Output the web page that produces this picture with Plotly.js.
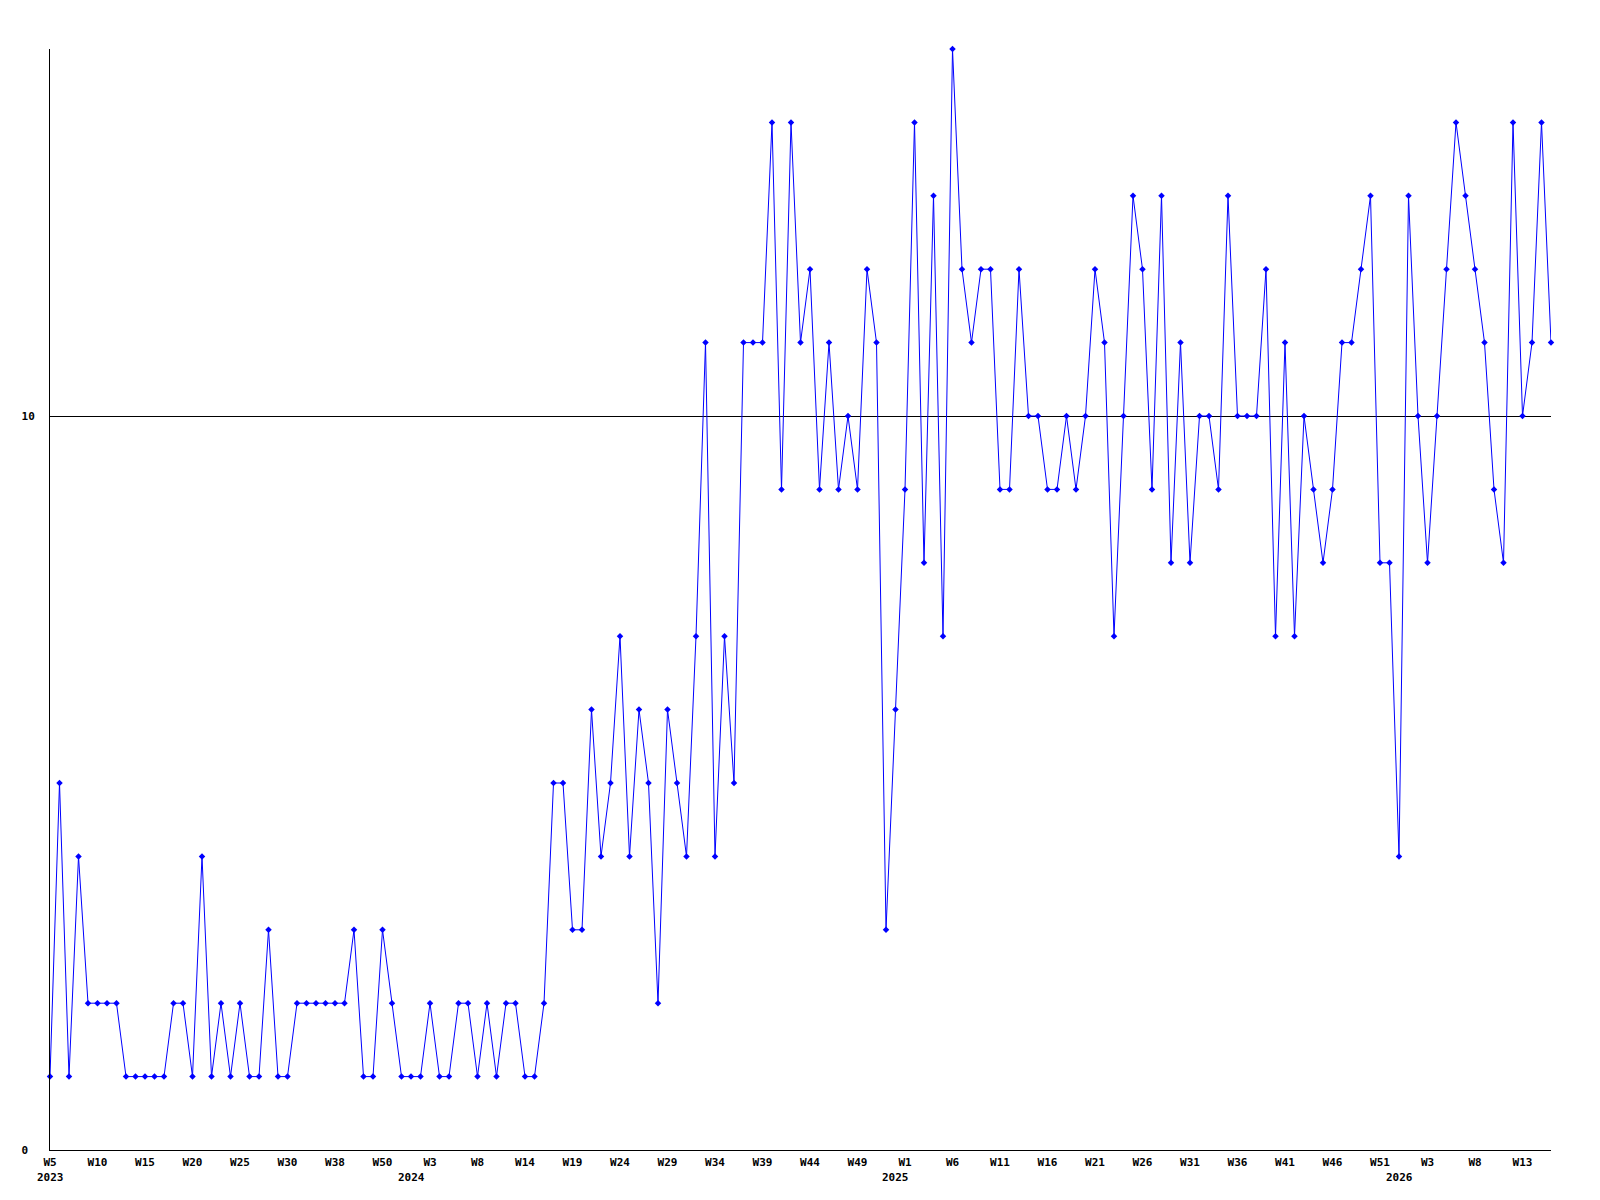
<!DOCTYPE html>
<html>
<head>
<meta charset="utf-8">
<script src="https://cdn.plot.ly/plotly-3.0.1.min.js"></script>
<style>
  html, body { margin: 0; padding: 0; background: #ffffff; }
  #chart { width: 1600px; height: 1200px; }
</style>
</head>
<body>
<div id="chart"></div>
<script>
// Weekly values, one per point (2023 W5 ... 2026 W15)
const values = [
  1,5,1,4,2,2,2,2,1,1,1,1,1,2,2,1,4,1,2,1,2,1,1,3,1,1,2,2,2,
  2,2,2,3,1,1,3,2,1,1,1,2,1,1,2,2,1,2,1,2,2,1,1,2,5,5,3,3,
  6,4,5,7,4,6,5,2,6,5,4,7,11,4,7,5,11,11,11,14,9,14,11,12,9,11,9,
  10,9,12,11,3,6,9,14,8,13,7,15,12,11,12,12,9,9,12,10,10,9,9,10,9,10,12,
  11,7,10,13,12,9,13,8,11,8,10,10,9,13,10,10,10,12,7,11,7,10,9,8,9,11,11,
  12,13,8,8,4,13,10,8,10,12,14,13,12,11,9,8,14,10,11,14,11
];

// Week tick labels (every 5th point)
const weekTickLabels = ["W5","W10","W15","W20","W25","W30","W38","W50","W3","W8","W14","W19",
  "W24","W29","W34","W39","W44","W49","W1","W6","W11","W16","W21","W26","W31","W36",
  "W41","W46","W51","W3","W8","W13"];
const weekTickEvery = 5;

// Year labels and the point index at which each year begins
const years = ["2023","2024","2025","2026"];
const yearStartIndex = [0, 38, 89, 142];

// Y axis labels
const yTickValues = [0, 10];
const yMax = 15;

const xIdx = values.map((_, i) => i);
const tickVals = weekTickLabels.map((_, k) => k * weekTickEvery);
// left-aligned y labels (monospace padding)
const yTickText = yTickValues.map(v => String(v).padEnd(2, "\u00a0"));

const labelFont = { family: "DejaVu Sans Mono", size: 11, color: "#000000", weight: "bold" };

const trace = {
  x: xIdx,
  y: values,
  type: "scatter",
  mode: "lines+markers",
  line: { color: "#0000ff", width: 1 },
  marker: { color: "#0000ff", symbol: "diamond", size: 5 },
  cliponaxis: false,
  hoverinfo: "skip"
};

const annotations = years.map((yr, k) => ({
  x: yearStartIndex[k], xref: "x",
  y: 0, yref: "paper",
  yanchor: "top", xanchor: "center",
  yshift: -19,
  text: yr, showarrow: false,
  font: labelFont
}));

const layout = {
  width: 1600, height: 1200,
  margin: { l: 50, r: 49, t: 49, b: 50, pad: 0 },
  paper_bgcolor: "#ffffff", plot_bgcolor: "#ffffff",
  showlegend: false,
  xaxis: {
    range: [0, values.length - 1],
    showline: true, linecolor: "#000000", linewidth: 1,
    showgrid: false, zeroline: false,
    ticks: "", tickvals: tickVals, ticktext: weekTickLabels,
    tickfont: labelFont, ticklabelstandoff: 2
  },
  yaxis: {
    range: [0, yMax],
    showline: true, linecolor: "#000000", linewidth: 1,
    showgrid: true, gridcolor: "#000000", gridwidth: 1,
    zeroline: false,
    ticks: "", tickvals: yTickValues, ticktext: yTickText,
    tickfont: labelFont, ticklabelstandoff: 12
  },
  annotations: annotations
};

Plotly.newPlot("chart", [trace], layout, { staticPlot: true, displayModeBar: false });
</script>
</body>
</html>
